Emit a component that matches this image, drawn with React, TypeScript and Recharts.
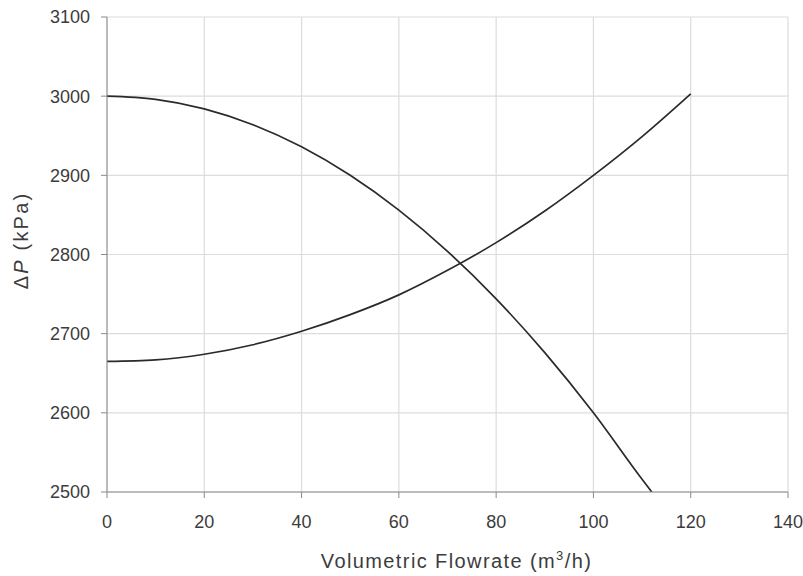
import React from 'react';
import { LineChart, Line, XAxis, YAxis, CartesianGrid, Label } from 'recharts';

const pumpFlow = [0, 10, 20, 30, 40, 50, 60, 70, 80, 90, 100, 110, 112];
const pumpDp = [3000, 2996, 2984, 2964, 2936, 2900, 2856, 2804, 2744, 2676, 2600, 2516, 2500];

const systemFlow = [0, 10, 20, 30, 40, 50, 60, 70, 80, 90, 100, 110, 120];
const systemDp = [2665, 2667, 2674, 2686, 2703, 2724, 2749, 2780, 2815, 2855, 2900, 2949, 3003];

const xTicks = [0, 20, 40, 60, 80, 100, 120, 140];
const yTicks = [2500, 2600, 2700, 2800, 2900, 3000, 3100];

const pumpData = pumpFlow.map((q, i) => ({ q, dp: pumpDp[i] }));
const systemData = systemFlow.map((q, i) => ({ q, dp: systemDp[i] }));

const font = '"Liberation Sans", Arial, sans-serif';
const textColor = '#3c3c3c';
const axisColor = '#8a8a8a';

const XTitle = (props: any) => {
  const vb = props.viewBox;
  const cx = vb.x + vb.width / 2 + 9;
  return (
    <text x={cx} y={vb.y + 76} textAnchor="middle" fontSize={20} letterSpacing={1.4}
      fill={textColor} fontFamily={font}>
      Volumetric Flowrate (m<tspan dy={-8} fontSize={13}>3</tspan>
      <tspan dy={8}>/h)</tspan>
    </text>
  );
};

const YTitle = (props: any) => {
  const vb = props.viewBox;
  const cy = vb.y + vb.height / 2 - 14;
  const x = 28;
  return (
    <text x={x} y={cy} textAnchor="middle" fontSize={20} letterSpacing={2.2}
      fill={textColor} fontFamily={font} transform={`rotate(-90, ${x}, ${cy})`}>
      Δ<tspan fontStyle="italic">P</tspan> (kPa)
    </text>
  );
};

const App: React.FC = () => {
  return (
    <div style={{ position: 'absolute', left: 0, top: 0, width: 803, height: 576, background: '#fff' }}>
      <LineChart width={803} height={576} margin={{ top: 17, right: 15, left: 0, bottom: 0 }}>
        <CartesianGrid stroke="#dcdcdc" strokeWidth={1.2} />
        <XAxis
          type="number"
          dataKey="q"
          domain={[0, 140]}
          ticks={xTicks}
          height={84}
          stroke={axisColor}
          tickSize={6}
          tick={{ fill: textColor, fontSize: 18, fontFamily: font, dy: 15 }}
          allowDataOverflow
        >
          <Label content={XTitle} />
        </XAxis>
        <YAxis
          type="number"
          domain={[2500, 3100]}
          ticks={yTicks}
          width={107}
          stroke={axisColor}
          tickSize={6}
          tick={{ fill: textColor, fontSize: 18, fontFamily: font, dx: -9 }}
          allowDataOverflow
        >
          <Label content={YTitle} />
        </YAxis>
        <Line
          data={pumpData}
          dataKey="dp"
          type="monotone"
          stroke="#2a2a2a"
          strokeWidth={1.7}
          dot={false}
          isAnimationActive={false}
        />
        <Line
          data={systemData}
          dataKey="dp"
          type="monotone"
          stroke="#2a2a2a"
          strokeWidth={1.7}
          dot={false}
          isAnimationActive={false}
        />
      </LineChart>
    </div>
  );
};

export default App;
